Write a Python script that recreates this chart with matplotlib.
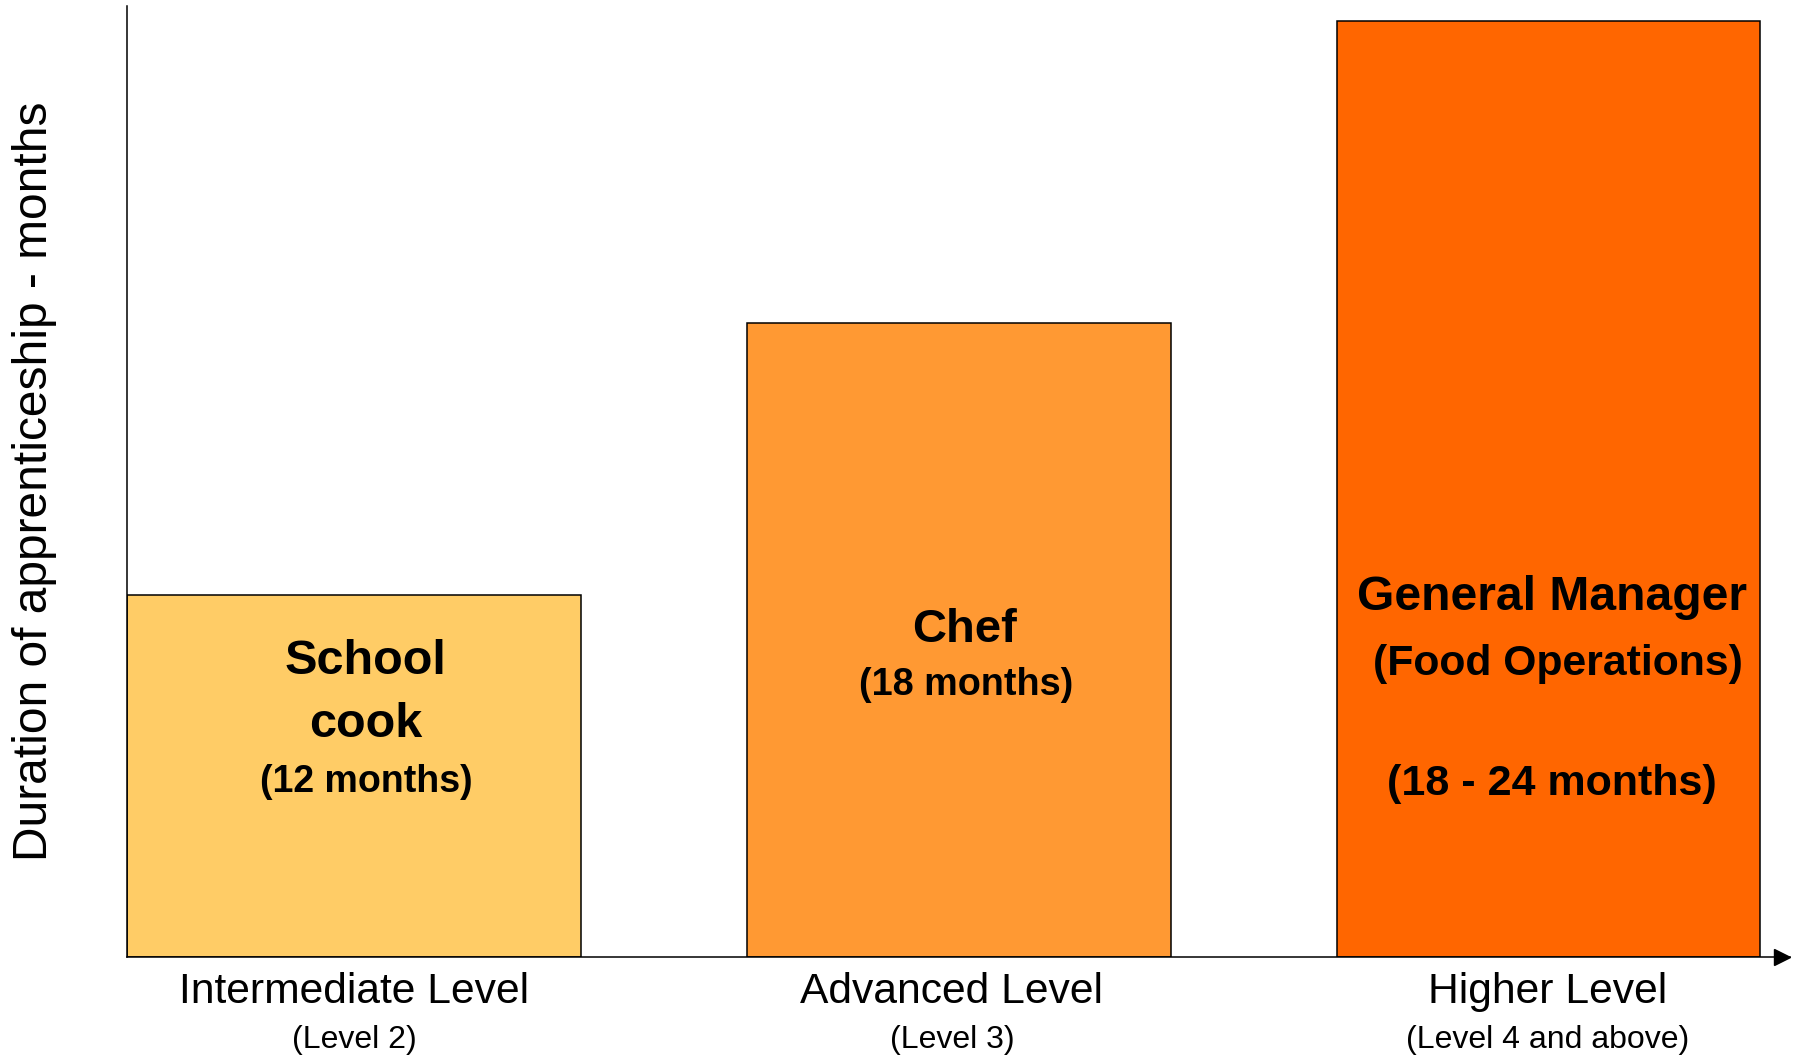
import matplotlib
matplotlib.use("Agg")
import matplotlib.pyplot as plt

plt.rcParams['font.family'] = ['Liberation Sans', 'DejaVu Sans']

# data (bar heights in months, as drawn)
levels = ["Intermediate Level", "Advanced Level", "Higher Level"]
sublevels = ["(Level 2)", "(Level 3)", "(Level 4 and above)"]
heights = [12, 21, 31]
colors = ["#FFCC66", "#FF9933", "#FF6600"]

# layout, in pixels from the y axis
lefts = [0, 620, 1210]
widths = [454, 424, 423]

fig = plt.figure(figsize=(18, 10.56), dpi=100)
ax = fig.add_axes([127 / 1800, 99 / 1056, 1663 / 1800, 951 / 1056])

ax.bar(lefts, heights, width=widths, align='edge', color=colors,
       edgecolor='black', linewidth=1.1, zorder=2)

ax.set_xlim(0, 1663)
ax.set_ylim(0, 31.5)
ax.set_xticks([])
ax.set_yticks([])
for s in ['top', 'right']:
    ax.spines[s].set_visible(False)
for s in ['left', 'bottom']:
    ax.spines[s].set_linewidth(1.1)
ax.plot([1655], [0], marker='>', color='black', markersize=11,
        clip_on=False, zorder=3)

ax.set_ylabel("Duration of apprenticeship - months", fontsize=34.5, va='center')
ax.yaxis.set_label_coords(-92 / 1663, 0.5)

# category labels under the axis
centers = [227, 825, 1421]
for c, lab, sub in zip(centers, levels, sublevels):
    ax.annotate(lab, xy=(c, 0), xytext=(0, -33), textcoords='offset points',
                ha='center', va='baseline', fontsize=30.7, annotation_clip=False)
    ax.annotate(sub, xy=(c, 0), xytext=(0, -65.5), textcoords='offset points',
                ha='center', va='baseline', fontsize=23, annotation_clip=False)

# text inside bars
bold = dict(ha='center', va='baseline', fontweight='bold', color='black', zorder=4)
ax.text(239, 9.37, "School", fontsize=35, **bold)
ax.text(239, 7.29, "cook", fontsize=35, **bold)
ax.text(239, 5.47, "(12 months)", fontsize=27, **bold)

ax.text(838, 10.43, "Chef", fontsize=34, **bold)
ax.text(839, 8.68, "(18 months)", fontsize=27.2, **bold)

ax.text(1425, 11.49, "General Manager", fontsize=34.6, **bold)
ax.text(1431, 9.34, "(Food Operations)", fontsize=30.8, **bold)
ax.text(1425, 5.37, "(18 - 24 months)", fontsize=31, **bold)

fig.savefig("out.png", dpi=100)
